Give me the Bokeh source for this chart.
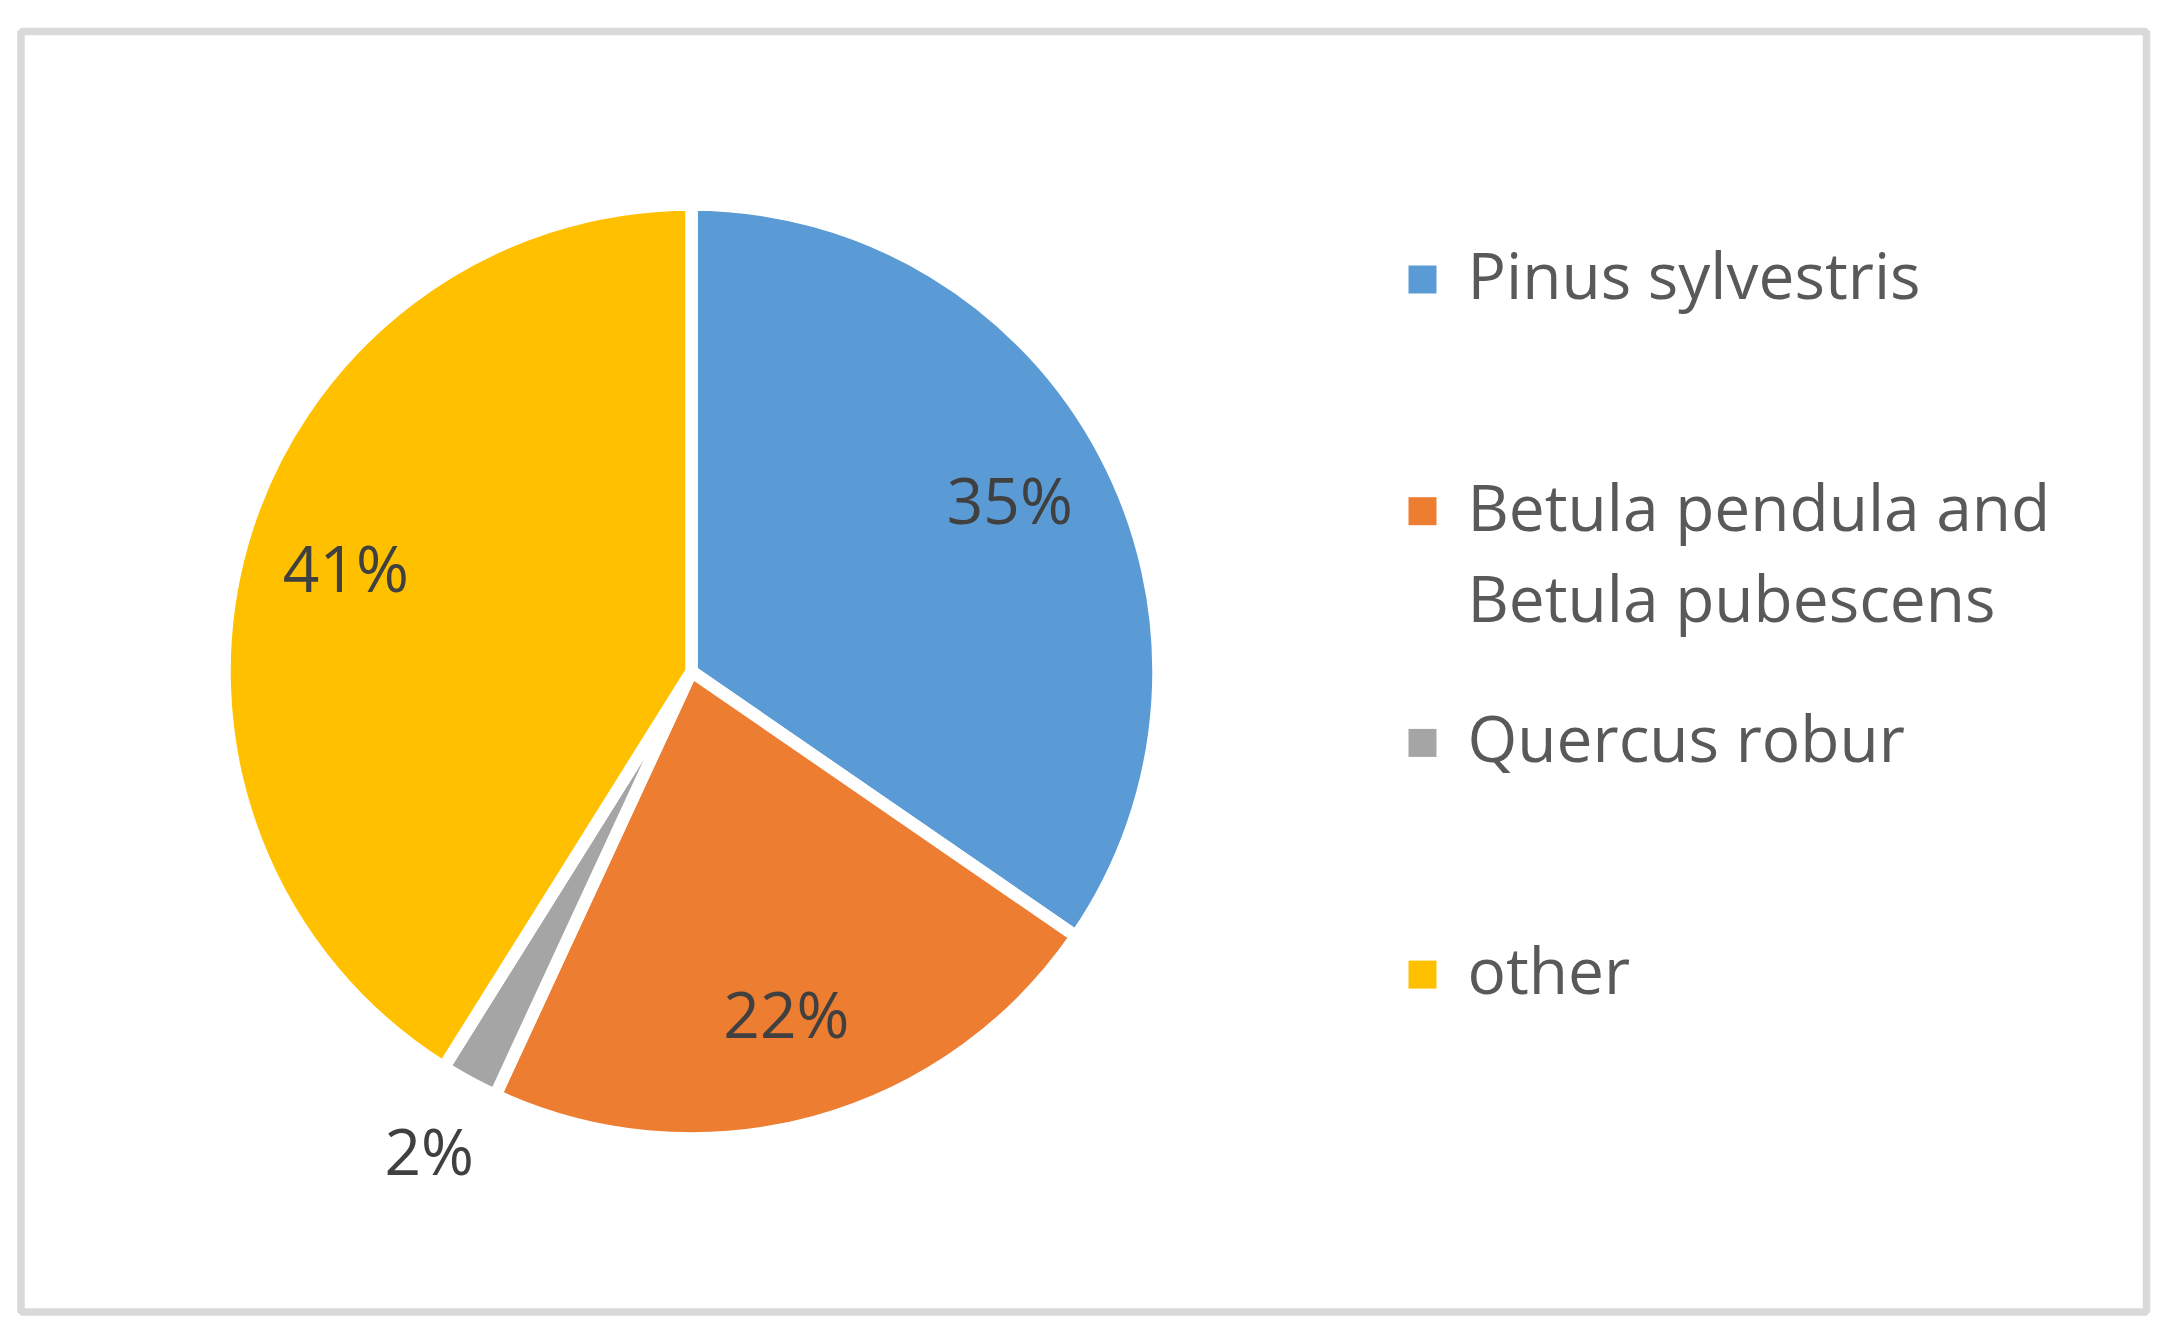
import math
from bokeh.plotting import figure
from bokeh.models import Range1d, ColumnDataSource
from bokeh.embed import file_html
from bokeh.resources import INLINE
from bokeh.core.properties import value

# ---- data ----
categories = ["Pinus sylvestris", "Betula pendula and Betula pubescens", "Quercus robur", "other"]
legend_lines = [["Pinus sylvestris"], ["Betula pendula and", "Betula pubescens"], ["Quercus robur"], ["other"]]
shares = [34.6, 22.3, 2.0, 41.1]
colors = ["#5B9BD5", "#ED7D31", "#A5A5A5", "#FFC000"]

# ---- layout ----
W, H = 2169, 1335
FONT = "Open Sans"


def fx(X):
    return X


def fy(Y):
    return H - Y


p = figure(width=W, height=H, x_range=Range1d(0, W), y_range=Range1d(0, H),
           output_backend="svg", toolbar_location=None, min_border=0,
           x_axis_type=None, y_axis_type=None)
p.outline_line_color = None
p.background_fill_color = "white"
p.border_fill_color = "white"

# chart border
p.quad(left=fx(20.5), right=fx(2146), top=fy(31), bottom=fy(1311.5),
       fill_color=None, line_color="#D9D9D9", line_width=7.5)

# pie
cx, cy, r = fx(691), fy(671), 461
total = sum(shares)
starts, ends, lx, ly, labels = [], [], [], [], []
cum = 0.0
for s in shares:
    a0 = cum / total * 2 * math.pi
    cum += s
    a1 = cum / total * 2 * math.pi
    starts.append(math.pi / 2 - a1)
    ends.append(math.pi / 2 - a0)
    mid = (a0 + a1) / 2
    frac = s / total
    rr = r * (0.78 if frac >= 0.05 else 1.195)
    lx.append(cx + rr * math.sin(mid))
    ly.append(cy + rr * math.cos(mid))
    labels.append(f"{round(frac * 100)}%")

src = ColumnDataSource(dict(start=starts, end=ends, color=colors, cat=categories,
                            lx=lx, ly=ly, label=labels))
p.wedge(x=cx, y=cy, radius=r + 6, start_angle="start", end_angle="end",
        direction="anticlock", fill_color="color", line_color="white",
        line_width=12.5, source=src)

p.text(x="lx", y="ly", text="label", source=src, text_font=value(FONT),
       text_font_size="64px", text_color="#404040", text_align="center",
       text_baseline="middle", y_offset=-5)

# legend
sq_x, sq_y, tx, ty, tt = [], [], [], [], []
for i, lines in enumerate(legend_lines):
    yc = fy(279 + i * 231.7)
    sq_x.append(fx(1422))
    sq_y.append(yc)
    for j, line in enumerate(lines):
        tx.append(fx(1467))
        ty.append(yc - j * 91.7)
        tt.append(line)

p.rect(x=sq_x, y=sq_y, width=28, height=28, fill_color=colors, line_color=None)
p.text(x=tx, y=ty, text=tt, text_font=value(FONT), text_font_size="64px",
       text_color="#595959", text_align="left", text_baseline="middle",
       y_offset=-5)

open("out.html", "w").write(file_html(p, INLINE))
